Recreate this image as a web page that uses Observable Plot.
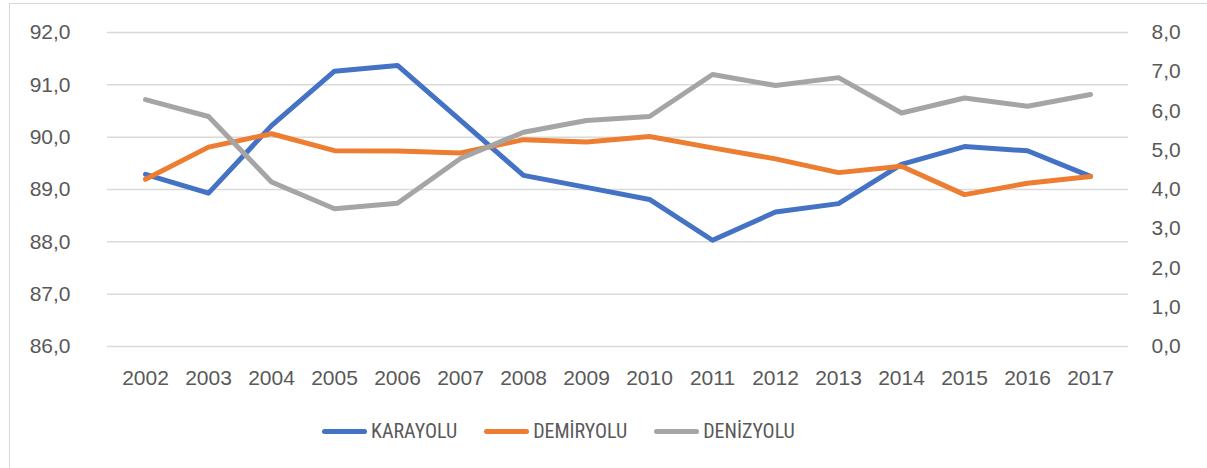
<!DOCTYPE html>
<html>
<head>
<meta charset="utf-8">
<script src="https://cdn.jsdelivr.net/npm/d3@7"></script>
<script src="https://cdn.jsdelivr.net/npm/@observablehq/plot@0.6"></script>
<style>
  html, body { margin: 0; padding: 0; background: #fff; width: 1207px; height: 468px; overflow: hidden; }
  #frame { position: absolute; left: 9px; top: 3px; width: 1250px; height: 520px; border: 1.5px solid #d9d9d9; border-right: none; box-sizing: border-box; }
  #chart { position: absolute; left: 0; top: 0; }
  #legend { position: absolute; left: 322px; top: 418px; display: flex; gap: 27px; align-items: center;
            font-family: "Liberation Sans Narrow", "Roboto Condensed", Roboto, sans-serif; font-size: 20px; color: #595959; }
  .item { display: flex; align-items: center; gap: 4px; height: 26px; }
  .swatch { width: 45px; height: 5px; border-radius: 3px; }
</style>
</head>
<body>
<div id="frame"></div>
<div id="chart"></div>
<div id="legend"></div>
<script>
const years = ["2002","2003","2004","2005","2006","2007","2008","2009","2010","2011","2012","2013","2014","2015","2016","2017"];
const karayolu  = [89.29, 88.93, 90.22, 91.26, 91.37, 90.32, 89.27, 89.04, 88.81, 88.03, 88.57, 88.73, 89.48, 89.82, 89.74, 89.25];
const demiryolu = [4.26, 5.08, 5.42, 4.99, 4.98, 4.93, 5.27, 5.21, 5.35, 5.06, 4.78, 4.43, 4.59, 3.87, 4.16, 4.33];
const denizyolu = [6.29, 5.86, 4.19, 3.51, 3.65, 4.79, 5.46, 5.76, 5.86, 6.93, 6.65, 6.85, 5.95, 6.33, 6.12, 6.42];
const seriesNames = ["KARAYOLU", "DEMİRYOLU", "DENİZYOLU"];
const seriesColors = ["#4472C4", "#ED7D31", "#A5A5A5"];
const leftTicks = [86, 87, 88, 89, 90, 91, 92];
const rightTicks = [0, 1, 2, 3, 4, 5, 6, 7, 8];

// secondary axis (0..8) mapped onto primary axis (86..92)
const toLeft = v => 86 + v * 0.75;
const fromLeft = v => (v - 86) / 0.75;
const fmt = v => (Math.round(v * 10) / 10).toFixed(1).replace(".", ",");

const rows = [];
years.forEach((y, i) => rows.push({year: y, series: seriesNames[0], value: karayolu[i]}));
years.forEach((y, i) => rows.push({year: y, series: seriesNames[1], value: toLeft(demiryolu[i])}));
years.forEach((y, i) => rows.push({year: y, series: seriesNames[2], value: toLeft(denizyolu[i])}));

const chart = Plot.plot({
  width: 1207,
  height: 400,
  marginLeft: 107,
  marginRight: 79,
  marginTop: 32,
  marginBottom: 54,
  style: {fontFamily: "'Liberation Sans', Arial, sans-serif", fontSize: "21px", color: "#595959", background: "transparent"},
  x: {type: "point", domain: years, padding: 0.5},
  y: {domain: [86, 92]},
  color: {domain: seriesNames, range: seriesColors},
  marks: [
    Plot.gridY(leftTicks, {stroke: "#d9d9d9", strokeOpacity: 1, strokeWidth: 1.5}),
    Plot.axisX({tickSize: 0, tickPadding: 24, label: null}),
    Plot.axisY(leftTicks, {anchor: "left", tickSize: 0, tickPadding: 37, tickFormat: fmt, label: null}),
    Plot.axisY(rightTicks.map(toLeft), {anchor: "right", tickSize: 0, tickPadding: 23, tickFormat: d => fmt(fromLeft(d)), label: null}),
    Plot.lineY(rows, {x: "year", y: "value", stroke: "series", z: "series", strokeWidth: 5, strokeLinejoin: "round", strokeLinecap: "round"})
  ]
});
document.getElementById("chart").appendChild(chart);

const legend = document.getElementById("legend");
seriesNames.forEach((name, i) => {
  const item = document.createElement("div");
  item.className = "item";
  const sw = document.createElement("div");
  sw.className = "swatch";
  sw.style.background = seriesColors[i];
  const tx = document.createElement("span");
  tx.textContent = name;
  item.appendChild(sw);
  item.appendChild(tx);
  legend.appendChild(item);
});
</script>
</body>
</html>
